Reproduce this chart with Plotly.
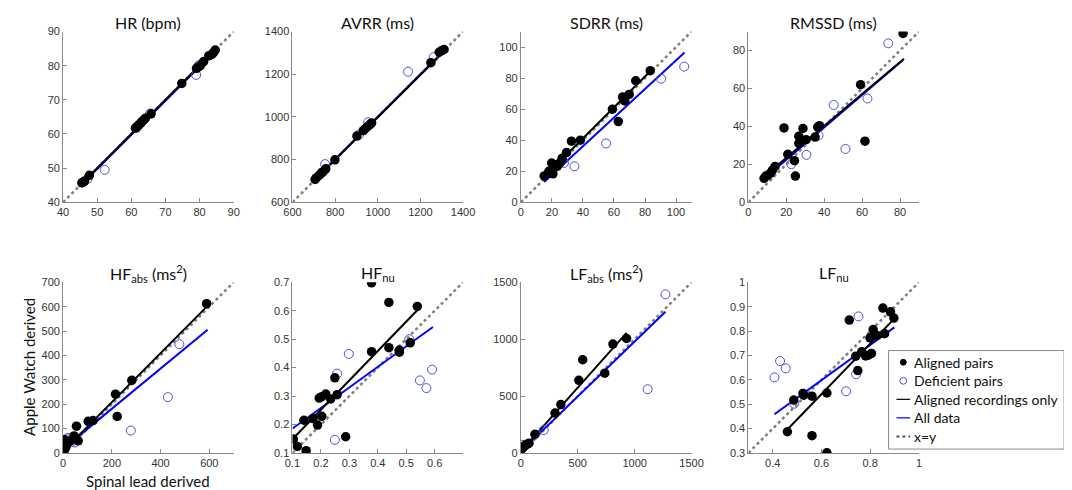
import plotly.graph_objects as go

# ---- data (x = spinal lead, y = Apple Watch) ----
hr_al_x = [45.5, 46, 46.3, 47.7, 61.2, 61.7, 62.2, 62.7, 63.1, 63.6, 64.1, 65.8, 74.8, 79.1, 79.8, 80.3, 81.2, 82.7, 83.6, 84.1, 84.6]
hr_al_y = [45.7, 46, 46.2, 47.9, 61.7, 62.2, 62.7, 63.1, 63.6, 64.1, 64.6, 65.9, 74.8, 79.2, 79.7, 80.1, 81.2, 82.9, 83.3, 83.8, 84.6]
hr_def_x = [47.2, 52.2, 61.7, 65.5, 79.0, 79.8]
hr_def_y = [46.9, 49.5, 61.9, 66.0, 77.3, 80.2]
hr_fit_al = ([45.5, 84.8], [45.5, 84.8])
hr_fit_all = ([45.5, 84.8], [45.3, 84.5])

avrr_al_x = [706, 713, 726, 736, 744, 756, 799, 902, 932, 940, 952, 963, 971, 1249, 1288, 1300, 1311]
avrr_al_y = [707, 715, 727, 738, 744, 757, 799, 910, 936, 944, 955, 964, 972, 1254, 1303, 1311, 1316]
avrr_def_x = [753, 912, 955, 1142, 1262]
avrr_def_y = [779, 917, 975, 1212, 1280]
avrr_fit_al = ([706, 1314], [706, 1310])
avrr_fit_all = ([706, 1314], [708, 1314])

sdrr_al_x = [15, 18, 19.8, 20.6, 21.9, 23.4, 25, 26.6, 29.4, 32.6, 38.3, 59, 62.8, 65.5, 67, 69.8, 74, 83.4]
sdrr_al_y = [17, 20, 25.3, 18.3, 24.2, 23.2, 25.3, 28.4, 32, 39.4, 40, 60, 52, 67.8, 65.3, 69.5, 78.3, 84.8]
sdrr_def_x = [27.7, 34.5, 54.9, 90.4, 105.3]
sdrr_def_y = [25.3, 23.2, 37.9, 79.6, 87.4]
sdrr_fit_al = ([14.5, 85], [15.8, 86])
sdrr_fit_all = ([15, 105.5], [13, 96.5])

rmssd_al_x = [8.3, 9.2, 10.4, 11.8, 12.7, 14.1, 18.8, 20.8, 24.3, 24.8, 26.6, 26.6, 28.8, 30.4, 35.2, 36.6, 37.5, 59.2, 61.5, 81.6]
rmssd_al_y = [12.6, 13.8, 14.3, 15.5, 16.9, 18.9, 39.2, 25.3, 21.9, 13.8, 34.8, 31, 38.9, 33, 34.4, 39.6, 40.4, 62, 32.2, 89]
rmssd_def_x = [22.6, 30.6, 37, 45, 51.2, 62.8, 73.8]
rmssd_def_y = [20.1, 25, 35.3, 51.3, 28.1, 54.7, 83.8]
rmssd_fit_al = ([7.5, 82.1], [12.9, 75.7])
rmssd_fit_all = ([8, 81.6], [12.2, 75])

hfabs_al_x = [5, 8, 12, 6, 15, 20, 30, 45, 55, 62, 103, 123, 215, 222, 282, 589]
hfabs_al_y = [55, 40, 25, 12, 35, 45, 50, 70, 110, 50, 130, 133, 241, 150, 298, 612]
hfabs_def_x = [22, 35, 49, 20, 278, 430, 477]
hfabs_def_y = [56, 45, 43, 62, 92, 229, 446]
hfabs_fit_al = ([3, 590], [10, 600])
hfabs_fit_all = ([8, 593], [23, 505])

hfnu_al_x = [0.103, 0.117, 0.140, 0.148, 0.172, 0.188, 0.194, 0.203, 0.203, 0.217, 0.234, 0.249, 0.257, 0.287,
             0.378, 0.378, 0.439, 0.439, 0.476, 0.476, 0.514, 0.539]
hfnu_al_y = [0.149, 0.123, 0.215, 0.108, 0.221, 0.198, 0.293, 0.298, 0.229, 0.307, 0.290, 0.364, 0.305, 0.157,
             0.698, 0.456, 0.629, 0.470, 0.462, 0.454, 0.487, 0.615]
hfnu_def_x = [0.249, 0.257, 0.298, 0.511, 0.548, 0.571, 0.591]
hfnu_def_y = [0.146, 0.379, 0.448, 0.500, 0.355, 0.328, 0.393]
hfnu_fit_al = ([0.103, 0.543], [0.152, 0.606])
hfnu_fit_all = ([0.1, 0.594], [0.186, 0.543])

lfabs_al_x = [0, 10, 20, 30, 40, 60, 71, 123, 300, 351, 509, 543, 737, 809, 929]
lfabs_al_y = [29, 40, 50, 60, 70, 80, 86, 164, 351, 425, 638, 819, 701, 957, 1006]
lfabs_def_x = [9, 200, 1114, 1271]
lfabs_def_y = [72, 201, 560, 1394]
lfabs_fit_al = ([0, 929], [14, 1055])
lfabs_fit_all = ([0, 1271], [14, 1241])

lfnu_al_x = [0.460, 0.486, 0.524, 0.527, 0.561, 0.561, 0.622, 0.622, 0.714, 0.741, 0.749, 0.765, 0.781, 0.792,
             0.799, 0.805, 0.812, 0.828, 0.852, 0.859, 0.883, 0.897]
lfnu_al_y = [0.387, 0.517, 0.544, 0.537, 0.533, 0.371, 0.546, 0.301, 0.845, 0.697, 0.638, 0.715, 0.698, 0.701,
             0.772, 0.708, 0.806, 0.782, 0.894, 0.789, 0.879, 0.853]
lfnu_def_x = [0.407, 0.430, 0.453, 0.488, 0.701, 0.742, 0.752]
lfnu_def_y = [0.610, 0.677, 0.647, 0.502, 0.553, 0.623, 0.860]
lfnu_fit_al = ([0.46, 0.897], [0.396, 0.849])
lfnu_fit_all = ([0.407, 0.899], [0.459, 0.815])

titles = ["HR (bpm)", "AVRR (ms)", "SDRR (ms)", "RMSSD (ms)",
          "HF<sub>abs</sub> (ms<sup>2</sup>)", "HF<sub>nu</sub>", "LF<sub>abs</sub> (ms<sup>2</sup>)", "LF<sub>nu</sub>"]
legend_labels = ["Aligned pairs", "Deficient pairs", "Aligned recordings only", "All data", "x=y"]

x_ranges = [[40, 90], [600, 1400], [0, 110], [0, 90], [0, 700], [0.1, 0.7], [0, 1500], [0.3, 1]]
y_ranges = [[40, 90], [600, 1400], [0, 110], [0, 90], [0, 700], [0.1, 0.7], [0, 1500], [0.3, 1]]
x_ticks = [[40, 50, 60, 70, 80, 90], [600, 800, 1000, 1200, 1400], [0, 20, 40, 60, 80, 100], [0, 20, 40, 60, 80],
           [0, 200, 400, 600], [0.1, 0.2, 0.3, 0.4, 0.5, 0.6], [0, 500, 1000, 1500], [0.4, 0.6, 0.8, 1]]
y_ticks = [[40, 50, 60, 70, 80, 90], [600, 800, 1000, 1200, 1400], [0, 20, 40, 60, 80, 100], [0, 20, 40, 60, 80],
           [0, 100, 200, 300, 400, 500, 600, 700], [0.1, 0.2, 0.3, 0.4, 0.5, 0.6, 0.7], [0, 500, 1000, 1500],
           [0.3, 0.4, 0.5, 0.6, 0.7, 0.8, 0.9, 1]]

panels = [
    (hr_al_x, hr_al_y, hr_def_x, hr_def_y, hr_fit_al, hr_fit_all),
    (avrr_al_x, avrr_al_y, avrr_def_x, avrr_def_y, avrr_fit_al, avrr_fit_all),
    (sdrr_al_x, sdrr_al_y, sdrr_def_x, sdrr_def_y, sdrr_fit_al, sdrr_fit_all),
    (rmssd_al_x, rmssd_al_y, rmssd_def_x, rmssd_def_y, rmssd_fit_al, rmssd_fit_all),
    (hfabs_al_x, hfabs_al_y, hfabs_def_x, hfabs_def_y, hfabs_fit_al, hfabs_fit_all),
    (hfnu_al_x, hfnu_al_y, hfnu_def_x, hfnu_def_y, hfnu_fit_al, hfnu_fit_all),
    (lfabs_al_x, lfabs_al_y, lfabs_def_x, lfabs_def_y, lfabs_fit_al, lfabs_fit_all),
    (lfnu_al_x, lfnu_al_y, lfnu_def_x, lfnu_def_y, lfnu_fit_al, lfnu_fit_all),
]

W, H = 1072, 490
col_px = [(47, 221), (281, 455), (514, 688), (746, 920)]
row_px = [(18, 193), (275, 450)]

AXIS_GREY = "#8a8a8a"
DEF_BLUE = "#5050dc"
TICK_FONT = dict(family="Liberation Sans, Arial", size=11, color="#333333")
TEXT_FONT = "Lato, Open Sans, sans-serif"


def px_x(p):
    return p / W


def px_y(p):
    return 1 - p / H


fig = go.Figure()
layout = {}
annotations = []
shapes = []

for i, (ax_, ay_, dx_, dy_, fit_al, fit_all) in enumerate(panels):
    r, c = divmod(i, 4)
    n = "" if i == 0 else str(i + 1)
    xa, ya = "x" + n, "y" + n

    lo, hi = x_ranges[i]
    # x=y reference, then fits, then points
    fig.add_trace(go.Scatter(x=[lo, hi], y=[lo, hi], mode="lines", xaxis=xa, yaxis=ya,
                             line=dict(color="#808080", width=2.5, dash="dot"), hoverinfo="skip"))
    fig.add_trace(go.Scatter(x=fit_all[0], y=fit_all[1], mode="lines", xaxis=xa, yaxis=ya,
                             line=dict(color="#0000ff", width=2)))
    fig.add_trace(go.Scatter(x=fit_al[0], y=fit_al[1], mode="lines", xaxis=xa, yaxis=ya,
                             line=dict(color="#000000", width=2)))
    fig.add_trace(go.Scatter(x=dx_, y=dy_, mode="markers", xaxis=xa, yaxis=ya,
                             marker=dict(symbol="circle-open", size=9, color=DEF_BLUE, line=dict(width=1))))
    fig.add_trace(go.Scatter(x=ax_, y=ay_, mode="markers", xaxis=xa, yaxis=ya,
                             marker=dict(symbol="circle", size=9.5, color="#000000")))

    x0, x1 = col_px[c]
    y0, y1 = row_px[r]
    common = dict(showgrid=False, zeroline=False, showline=True, linecolor=AXIS_GREY, linewidth=1,
                  ticks="inside", ticklen=4, tickcolor=AXIS_GREY, tickfont=TICK_FONT, mirror=False)
    layout["xaxis" + n] = dict(domain=[px_x(x0), px_x(x1)], anchor=ya, range=x_ranges[i],
                               tickvals=x_ticks[i], ticktext=[f"{v:g}" for v in x_ticks[i]], **common)
    layout["yaxis" + n] = dict(domain=[px_y(y1), px_y(y0)], anchor=xa, range=y_ranges[i],
                               tickvals=y_ticks[i], ticktext=[f"{v:g}" for v in y_ticks[i]], **common)

    annotations.append(dict(text=titles[i], x=px_x((x0 + x1) / 2), y=px_y(y0 - 9),
                            xref="paper", yref="paper", showarrow=False,
                            xanchor="center", yanchor="middle",
                            font=dict(family=TEXT_FONT, size=16, color="#111111")))

annotations.append(dict(text="Apple Watch derived", x=px_x(12), y=px_y(362), xref="paper", yref="paper",
                        showarrow=False, textangle=-90, xanchor="center", yanchor="middle",
                        font=dict(family=TEXT_FONT, size=15, color="#111111")))
annotations.append(dict(text="Spinal lead derived", x=px_x(134), y=px_y(479), xref="paper", yref="paper",
                        showarrow=False, xanchor="center", yanchor="middle",
                        font=dict(family=TEXT_FONT, size=15, color="#111111")))

# legend box (drawn by hand to match the MATLAB layout)
shapes.append(dict(type="rect", xref="paper", yref="paper", x0=px_x(889), x1=px_x(1068),
                   y0=px_y(446), y1=px_y(345), line=dict(color="#8a8a8a", width=1), fillcolor="white",
                   layer="above"))
row_y = [357, 376, 395, 414, 433]
for k, lab in enumerate(legend_labels):
    yy = row_y[k]
    annotations.append(dict(text=lab, x=px_x(913), y=px_y(yy), xref="paper", yref="paper", showarrow=False,
                            xanchor="left", yanchor="middle",
                            font=dict(family=TEXT_FONT, size=14, color="#111111")))
    if k == 0:
        shapes.append(dict(type="circle", xref="paper", yref="paper", x0=px_x(901), x1=px_x(907),
                           y0=px_y(yy + 3), y1=px_y(yy - 3), fillcolor="black", line=dict(color="black", width=1),
                           layer="above"))
    elif k == 1:
        shapes.append(dict(type="circle", xref="paper", yref="paper", x0=px_x(900.5), x1=px_x(907.5),
                           y0=px_y(yy + 3.5), y1=px_y(yy - 3.5), line=dict(color=DEF_BLUE, width=1),
                           layer="above"))
    else:
        style = [dict(color="black", width=1.2), dict(color="#0000ff", width=1.2),
                 dict(color="#555555", width=2, dash="dot")][k - 2]
        shapes.append(dict(type="line", xref="paper", yref="paper", x0=px_x(897), x1=px_x(911),
                           y0=px_y(yy), y1=px_y(yy), line=style, layer="above"))

fig.update_layout(**layout)
fig.update_layout(
    width=W, height=H,
    margin=dict(l=0, r=0, t=0, b=0),
    paper_bgcolor="white", plot_bgcolor="white",
    showlegend=False,
    annotations=annotations,
    shapes=shapes,
)

fig.write_html("out.html")
